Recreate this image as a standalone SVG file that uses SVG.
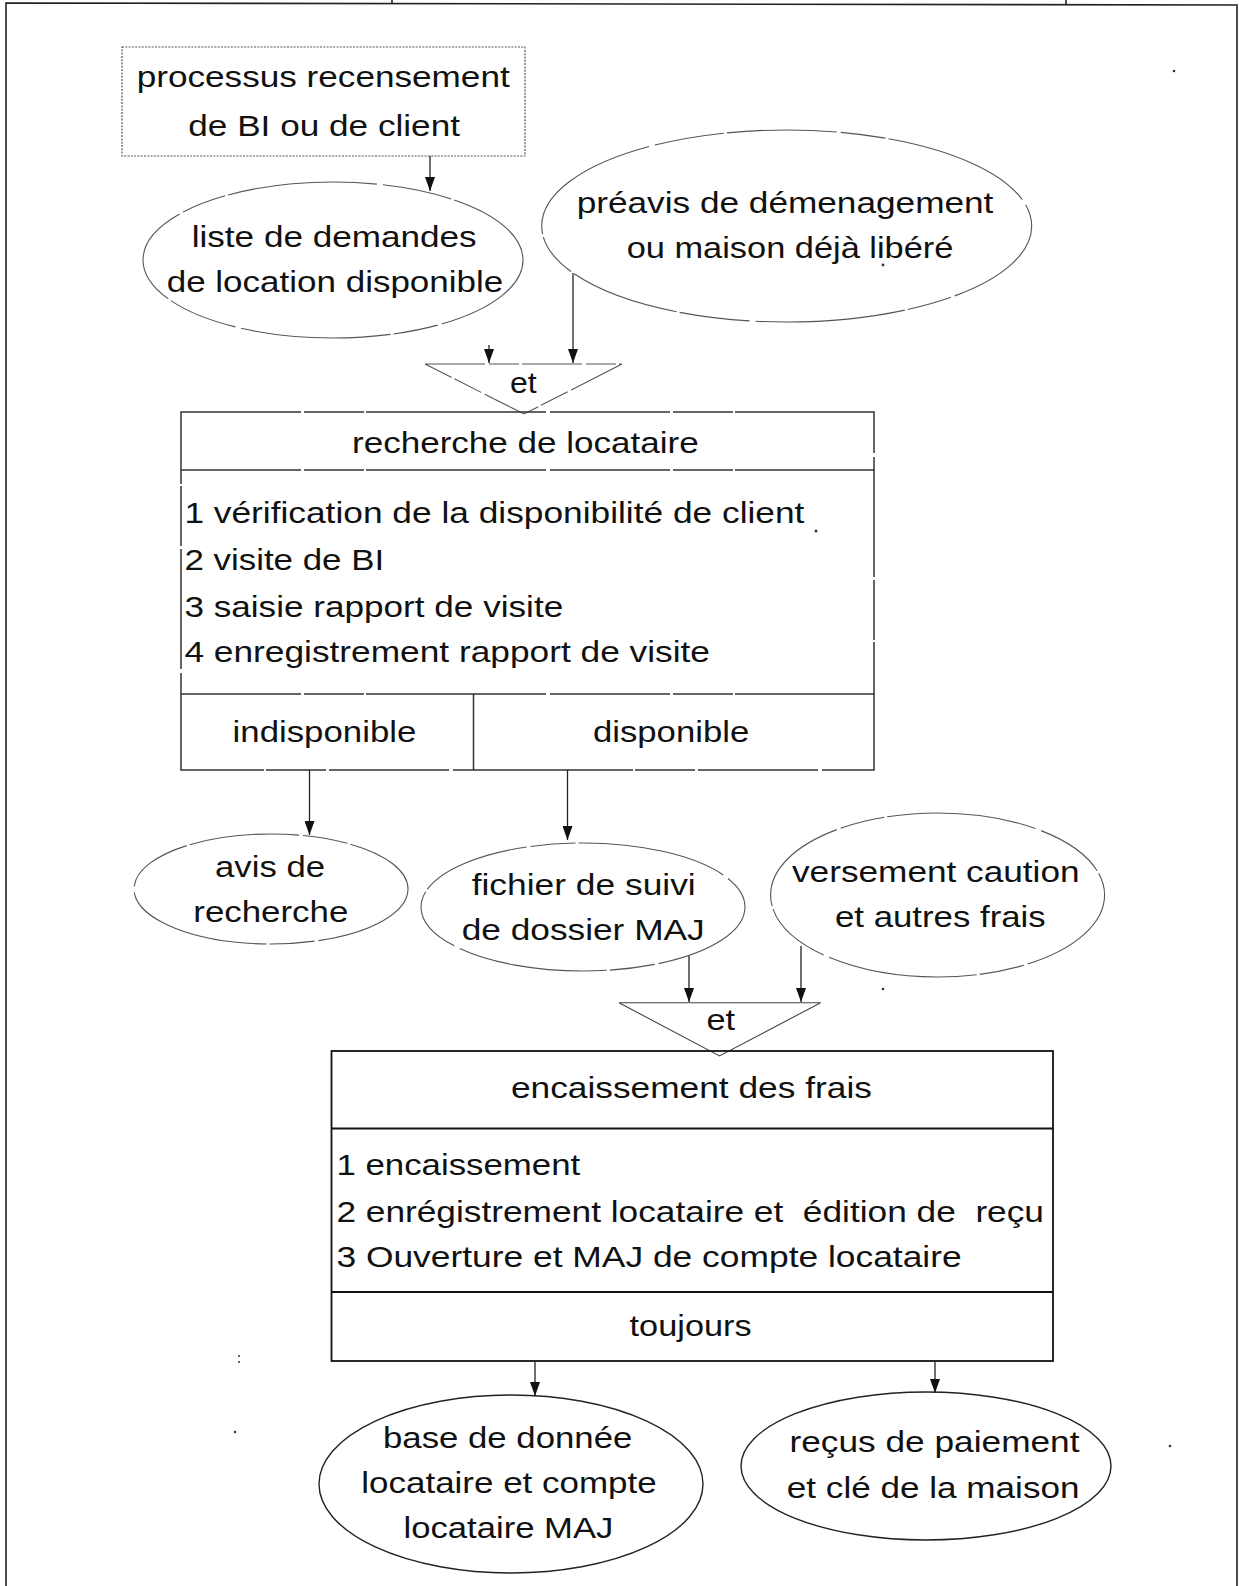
<svg xmlns="http://www.w3.org/2000/svg" width="1239" height="1586" viewBox="0 0 1239 1586">
  <defs>
    <marker id="arrow" markerUnits="userSpaceOnUse" markerWidth="14" markerHeight="10" refX="14" refY="5" orient="auto">
      <path d="M0,0 L14,5 L0,10 z" fill="#111"/>
    </marker>
    <style>
      text { font-family: "Liberation Sans", Arial, sans-serif; font-size: 29px; fill: #111; }
      .big { font-size: 30px; }
      .frame { fill: none; stroke: #222; stroke-width: 1.6; }
      .dotted { fill: none; stroke: #555; stroke-width: 1.2; stroke-dasharray: 2 1.3; }
      .faint { fill: none; stroke: #555; stroke-width: 1.1; stroke-dasharray: 110 4 45 3 150 6 70 3; }
      .box1 { fill: none; stroke: #333; stroke-width: 1.5; stroke-dasharray: 120 3 60 2 180 4; }
      .box2 { fill: none; stroke: #111; stroke-width: 1.8; }
      .solid { fill: none; stroke: #222; stroke-width: 1.4; }
      .gate { fill: none; stroke: #555; stroke-width: 1.1; stroke-dasharray: 60 4 30 3; }
      .gate2 { fill: none; stroke: #444; stroke-width: 1.1; }
      .link { stroke: #222; stroke-width: 1.3; fill: none; marker-end: url(#arrow); }
      .speck { fill: #333; }
    </style>
  </defs>

  <rect width="1239" height="1586" fill="#fff"/>

  <!-- page frame -->
  <g id="frame">
    <path class="frame" d="M6,1586 V3 L1237,5 V1586"/>
    <path class="frame" d="M392,0 V3 M1066,0 V5"/>
  </g>

  <!-- source process -->
  <g id="recensement">
    <rect class="dotted" x="122" y="47" width="403" height="109"/>
    <text x="136.7" y="86.7" textLength="373" lengthAdjust="spacingAndGlyphs">processus recensement</text>
    <text x="188.3" y="136" textLength="271.7" lengthAdjust="spacingAndGlyphs">de BI ou de client</text>
  </g>

  <g id="liste-demandes">
    <ellipse class="faint" cx="333" cy="260" rx="190" ry="78"/>
    <text x="191.7" y="246.7" textLength="285" lengthAdjust="spacingAndGlyphs">liste de demandes</text>
    <text x="166.7" y="291.7" textLength="336.6" lengthAdjust="spacingAndGlyphs">de location disponible</text>
  </g>

  <g id="preavis">
    <ellipse class="faint" cx="786.7" cy="226" rx="245" ry="96"/>
    <text x="576.7" y="213.3" textLength="416.7" lengthAdjust="spacingAndGlyphs">préavis de démenagement</text>
    <text x="626.7" y="258.3" textLength="326.7" lengthAdjust="spacingAndGlyphs">ou maison déjà libéré</text>
  </g>

  <!-- synchronisation 1 -->
  <g id="et-1">
    <path class="gate" d="M425,364 H622 L524,414 Z"/>
    <text x="510" y="393" textLength="26.7" lengthAdjust="spacingAndGlyphs">et</text>
  </g>

  <!-- operation: recherche de locataire -->
  <g id="recherche-locataire">
    <rect class="box1" x="181" y="412" width="693" height="358"/>
    <path class="box1" d="M181,470 H874 M181,694 H874 M473.5,694 V770"/>
    <text x="352" y="452.7" textLength="346.7" lengthAdjust="spacingAndGlyphs">recherche de locataire</text>
    <text x="184.4" y="523.3" textLength="620" lengthAdjust="spacingAndGlyphs">1 vérification de la disponibilité de client</text>
    <text x="184.4" y="570" textLength="199.8" lengthAdjust="spacingAndGlyphs">2 visite de BI</text>
    <text x="184.4" y="616.7" textLength="378.8" lengthAdjust="spacingAndGlyphs">3 saisie rapport de visite</text>
    <text x="184.4" y="661.7" textLength="525.6" lengthAdjust="spacingAndGlyphs">4 enregistrement rapport de visite</text>
    <text x="232.6" y="741.7" textLength="183.7" lengthAdjust="spacingAndGlyphs">indisponible</text>
    <text x="593" y="741.7" textLength="156.2" lengthAdjust="spacingAndGlyphs">disponible</text>
  </g>

  <g id="avis-recherche">
    <ellipse class="faint" cx="271" cy="889" rx="137" ry="55"/>
    <text x="215" y="876.7" textLength="110" lengthAdjust="spacingAndGlyphs">avis de</text>
    <text x="193.3" y="922.3" textLength="155" lengthAdjust="spacingAndGlyphs">recherche</text>
  </g>

  <g id="fichier-suivi">
    <ellipse class="faint" cx="583" cy="907" rx="162" ry="64"/>
    <text x="471.7" y="895" textLength="224" lengthAdjust="spacingAndGlyphs">fichier de suivi</text>
    <text x="461.7" y="940" textLength="243" lengthAdjust="spacingAndGlyphs">de dossier MAJ</text>
  </g>

  <g id="versement-caution">
    <ellipse class="faint" cx="937.6" cy="895" rx="167" ry="82"/>
    <text x="792" y="881.7" textLength="287.6" lengthAdjust="spacingAndGlyphs">versement caution</text>
    <text x="835" y="926.7" textLength="210.7" lengthAdjust="spacingAndGlyphs">et autres frais</text>
  </g>

  <!-- synchronisation 2 -->
  <g id="et-2">
    <path class="gate2" d="M619,1002.7 H820.7 L719.5,1056 Z"/>
    <text x="706.4" y="1030" textLength="28.6" lengthAdjust="spacingAndGlyphs">et</text>
  </g>

  <!-- operation: encaissement des frais -->
  <g id="encaissement-frais">
    <rect class="box2" x="331.5" y="1051" width="721.5" height="310"/>
    <path class="box2" d="M331.5,1128.5 H1053 M331.5,1292 H1053"/>
    <text x="510.9" y="1098.3" textLength="361" lengthAdjust="spacingAndGlyphs">encaissement des frais</text>
    <text x="336.4" y="1175" textLength="243.8" lengthAdjust="spacingAndGlyphs">1 encaissement</text>
    <text x="336.4" y="1221.7" textLength="707.6" lengthAdjust="spacingAndGlyphs" xml:space="preserve">2 enrégistrement locataire et  édition de  reçu</text>
    <text x="336.4" y="1266.7" textLength="625.3" lengthAdjust="spacingAndGlyphs">3 Ouverture et MAJ de compte locataire</text>
    <text x="629.6" y="1335.5" textLength="122" lengthAdjust="spacingAndGlyphs">toujours</text>
  </g>

  <g id="base-donnee">
    <ellipse class="solid" cx="511" cy="1484" rx="192" ry="89"/>
    <text class="big" x="383" y="1448.3" textLength="249.3" lengthAdjust="spacingAndGlyphs">base de donnée</text>
    <text class="big" x="361.3" y="1493.3" textLength="295.4" lengthAdjust="spacingAndGlyphs">locataire et compte</text>
    <text class="big" x="403.6" y="1538.3" textLength="209.7" lengthAdjust="spacingAndGlyphs">locataire MAJ</text>
  </g>

  <g id="recus-paiement">
    <ellipse class="solid" cx="926" cy="1466" rx="185" ry="74"/>
    <text class="big" x="789.5" y="1451.7" textLength="290" lengthAdjust="spacingAndGlyphs">reçus de paiement</text>
    <text class="big" x="786.8" y="1498.3" textLength="292.7" lengthAdjust="spacingAndGlyphs">et clé de la maison</text>
  </g>

  <!-- flows -->
  <g id="connectors">
    <line class="link" x1="430" y1="156" x2="430" y2="191"/>
    <line class="link" x1="489" y1="345" x2="489" y2="363"/>
    <line class="link" x1="573" y1="273" x2="573" y2="363"/>
    <line class="link" x1="309.5" y1="770" x2="309.5" y2="835"/>
    <line class="link" x1="567.5" y1="770" x2="567.5" y2="840"/>
    <line class="link" x1="689" y1="956" x2="689" y2="1002"/>
    <line class="link" x1="801" y1="946" x2="801" y2="1002"/>
    <line class="link" x1="535" y1="1361" x2="535" y2="1396"/>
    <line class="link" x1="935" y1="1361" x2="935" y2="1393"/>
  </g>

  <!-- stray marks on the sheet -->
  <g id="specks">
    <circle class="speck" cx="1174" cy="71" r="1.3"/>
    <circle class="speck" cx="883" cy="265" r="1.4"/>
    <circle class="speck" cx="816" cy="531" r="1.5"/>
    <circle class="speck" cx="883" cy="989" r="1.3"/>
    <circle class="speck" cx="239" cy="1356" r="1"/>
    <circle class="speck" cx="239" cy="1362" r="1"/>
    <circle class="speck" cx="235" cy="1432" r="1.2"/>
    <circle class="speck" cx="1170" cy="1446" r="1.3"/>
  </g>
</svg>
